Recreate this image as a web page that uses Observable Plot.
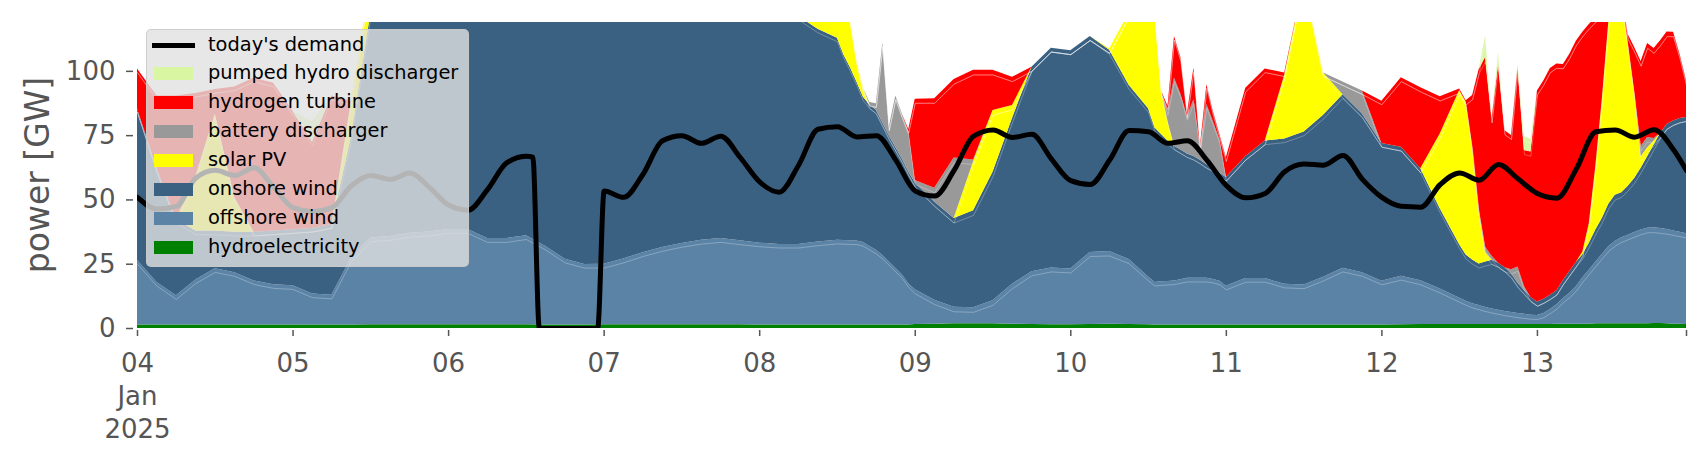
<!DOCTYPE html>
<html>
<head>
<meta charset="utf-8">
<script src="https://cdn.jsdelivr.net/npm/d3@7"></script>
<script src="https://cdn.jsdelivr.net/npm/@observablehq/plot@0.6"></script>
<style>
  body { margin: 0; background: #fff; font-family: "DejaVu Sans", sans-serif; }
  #wrap { position: relative; width: 1706px; height: 460px; overflow: hidden; background: #fff; }
  #ylabel { position: absolute; left: 37px; top: 175px; transform: translate(-50%, -50%) rotate(-90deg);
            font-size: 33px; color: #555; white-space: nowrap; }
  #legend { position: absolute; left: 146px; top: 29px; width: 323px; height: 238px; box-sizing: border-box;
            background: rgba(225,225,225,0.8); border: 1px solid rgba(200,200,200,0.8); border-radius: 5px; }
  .sw { position: absolute; left: 7px; width: 39px; height: 13px; }
  .ln { position: absolute; left: 5px; width: 43px; height: 5px; background: #000; }
  .lt { position: absolute; left: 61px; font-size: 19.4px; line-height: 1; color: #000; white-space: nowrap; }
</style>
</head>
<body>
<div id="wrap">
  <div id="chart"></div>
  <div id="ylabel">power [GW]</div>
  <div id="legend"></div>
</div>
<script>
// ---------- data ----------
// hours since 2025-01-04 00:00 for the generation series
const genHours = [0,3,6,9,12,15,18,21,24,27,30,33,36,39,42,45,48,51,54,57,60,63,66,69,72,75,78,81,84,87,90,93,96,99,102,105,108,
  109,110,111,112,113,114,115,116,117,118,119,120,
  123,126,129,132,135,138,141,144,147,150,153,156,
  157,158,159,160,161,162,163,164,165,166,167,168,
  171,174,177,180,183,186,189,192,195,198,201,204,
  205,206,207,208,209,210,211,212,213,214,215,216,217,218,219,220,221,222,223,224,225,226,227,228,229,230,231,232,233,234,235,236,237,238,239];

const hydro = [1.4,1.4,1.4,1.4,1.4,1.4,1.4,1.4,1.4,1.4,1.4,1.4,1.5,1.5,1.5,1.5,1.5,1.5,1.5,1.5,1.5,1.4,1.4,1.4,1.5,1.5,1.5,1.5,1.5,1.5,1.5,1.5,1.4,1.4,1.4,1.4,1.4,
  1.4,1.4,1.4,1.4,1.4,1.4,1.4,1.4,1.4,1.4,1.4,1.6,
  1.7,1.8,1.8,1.8,1.7,1.6,1.5,1.5,1.6,1.7,1.6,1.5,
  1.4,1.4,1.4,1.4,1.4,1.4,1.4,1.4,1.4,1.4,1.4,1.4,
  1.4,1.4,1.4,1.4,1.4,1.4,1.4,1.4,1.5,1.6,1.6,1.6,
  1.6,1.6,1.6,1.6,1.6,1.6,1.6,1.6,1.6,1.6,1.6,1.6,1.6,1.6,1.7,1.7,1.7,1.7,1.7,1.7,1.8,1.8,1.8,1.8,1.8,1.8,1.8,1.8,1.8,1.9,1.9,1.8,1.7,1.7,1.6];

const offshore = [25,16.5,11.3,17.5,21.8,20.3,17.1,15.6,15.2,12,11.5,26,33.7,34.3,35.5,36,37,37,33.5,33.5,34.6,30.5,25.5,23.5,23.5,25.5,28,30,31.6,32.8,33.5,32.6,31.8,31.3,31.3,32.2,32.9,
  32.8,32.7,32.6,32,30.5,29,27,24.5,22,19.5,16,13.5,
  9.3,6.5,6.3,9,15.5,20.5,22,21.6,28,28.2,25.2,18.5,
  16.5,16.8,16.9,17.1,17.6,18.1,18.1,18.1,18.1,17.7,17,15,
  18,18,15.8,15.5,18.5,22,20.3,17,18.8,17,13.8,10.2,
  9,8,7.3,6.6,6,5.5,5,4.6,4.2,3.9,3.6,3.5,4.2,5.8,7.5,10,12,14.5,18,21,24,27,30,32,33.5,34.5,35.5,36.5,37.2,37.3,37,36.7,36.2,35.7,35.2];

const onshore = [59,44.5,29.7,19,14.7,15.7,18.9,20.9,21.8,25.5,27.5,47,87.3,99.7,103.5,105,102,100,100.5,97.5,94.4,98.5,101.5,103.5,105.5,105.5,106,107,107.4,106.2,103.5,101.4,100.2,95.7,88.7,82.8,78.6,
  72.2,67.3,61.9,56.5,55,54.5,51.5,49,47,45,43.5,41.5,
  38.2,34.5,37.7,50,64.5,79.5,85.5,84.9,84,78.3,67.8,65.5,
  60.1,57.2,54.6,52.4,50.4,48.4,47.4,45.9,44.2,43.3,42,42.3,
  47.5,53.5,56.5,59.5,63,67.5,61.7,53.5,50.2,43.5,31.2,20.8,
  18,17,16.2,17.7,18.9,18.3,17,15.1,11.8,9.3,6.9,5.2,5.6,5.5,5.5,7,8.5,9.5,9,10.5,12.5,14,16.5,18,17.5,19,21,24,27.8,32.2,37,40.8,42.8,44.3,45.3];

const solar = [0,0,0,21.2,45.5,13.5,0,0,0,0,0,14,13,0,0,0,0,0,0,0,0,0,0,0,0,0,0,0,0,0,0,0,0,0,0,10,17.5,
  22,18.5,8.5,3.5,0,0,0,0,0,0,0,0,
  0,0,19,24,5,0,0,0,0,0.5,28,50,
  44.4,17,7.5,0,0,0,0,0,0,0,0,0,
  0,0,24.7,59,16.5,0,0,0,0,0,29,60,
  59.5,44,20.5,3.7,0,0,0,0,0,0,0,0,0,0,0,0,0,0,1,7.5,24.5,46,70.5,84,76,55.5,33.5,4.5,3.5,1.5,0,0,0,0,0];

const battery = [0,0,0,0,0,0,0,0,0,0,0,0,0,0,0,0,0,0,0,0,0,0,0,0,0,0,0,0,0,0,0,0,0,0,0,0,0,
  0,0,0,0,1,2.5,31.1,3.5,20,17.5,15.5,1,
  5.3,23.5,0.7,0,0,0,0,0,0,0,0,0,
  0,0,4,26.5,21.6,14.5,22.1,4.9,23.4,18,13,0,
  0,0,0,0,0,5,9,0,0,0,0,0,
  0,0,1,2,1.6,0,0,1.5,6.3,1.5,0,0,0,0,0,0,0,0,0,0,0,0,0,0,0,0,0,4,4,1,0,0,0,0,0];

const hydrogen = [15.5,28,48,32.3,9.5,43,60,57.5,46,33.5,50,0,0,0,0,0,0,0,0,0,0,0,0,0,0,0,0,0,0,0,0,0,0,0,0,0,0,
  0,0,0,0,0,0,0,0,0,0,1,31.6,
  34.8,30.5,34.9,15.6,11,0,0,0,0,0,0,0,
  0,0,2,16.2,14.2,1,12.3,0.6,7.7,4,2,7.7,
  26.5,28,1,0,0,0,0,16.5,27,31.5,14.5,0.5,
  0.5,20,54,73.8,53.5,77.4,53.3,52.3,77.6,52.9,56.5,82.1,84.9,88.2,88.2,84,84.5,86,85.5,77.5,58,34,5,2,2,3.5,17.5,33,36.5,35,36,36,34.5,25,14.2];

const pumped = [0,0,0,0,0,0,0,0,0,8,0,0,0,0,0,0,0,0,0,0,0,0,0,0,0,0,0,0,0,0,0,0,0,0,0,0,0,
  0,0,0,0,0,0,0,0,0,0,0,0,
  0,0,0,0,0,0,0,0,0,0,0,0,
  0,0,0,0,0,0,0,0,0,0,0,0,
  0,0,0,0,0,0,0,0,0,0,0,0,
  0,0,0,8.4,0,4.5,0,0,1.3,5.4,5,0,0,0,0,0,0,0,0,0,0,0,0,0,0,0,0,0,0,0,0,0,0,0,0];

// today's demand
const demandHours = [0,3,6,9,12,15,18,21,24,27,30,33,36,39,42,45,48,51,54,57,60,61,62,71,72,75,78,81,84,87,90,93,96,99,102,105,108,111,114,117,120,123,126,129,132,135,138,141,144,147,150,153,156,159,162,165,168,171,174,177,180,183,186,189,192,195,198,201,204,207,210,213,216,219,222,225,228,231,234,237,239];
const demand = [51,46.5,47.5,58.5,61.5,59.5,62.5,55,47,45.5,47,55.5,59.5,58,60.5,55,48,46,54,64.5,67,66.6,0,0,53.5,51,60,73,75,72,74.8,66.5,57,53,63.5,77.5,78.5,74.5,75,65.5,53.5,51.5,61.5,74.8,77.2,74.3,75.5,66,57.5,56,65.5,77,76.5,72,73,65.5,55.6,50.8,52.5,61,64,63.5,67.3,58,51,47.5,47.2,56,60.5,57.7,63.8,58.2,52.5,50.7,62,76.5,77.2,74.4,77.3,69.5,61.4];

const seriesNames = ["hydroelectricity","offshore wind","onshore wind","solar PV","battery discharger","hydrogen turbine","pumped hydro discharger"];
const seriesColors = ["#008000","#5b83a6","#3b6182","#ffff00","#999999","#ff0000","#d9f7a3"];
const yTicks = [0,25,50,75,100];
const dayTicks = [4,5,6,7,8,9,10,11,12,13];
const legendNames = ["today's demand","pumped hydro discharger","hydrogen turbine","battery discharger","solar PV","onshore wind","offshore wind","hydroelectricity"];

// ---------- build ----------
const t0 = Date.UTC(2025, 0, 4);
const toDate = h => new Date(t0 + h * 3600e3);
const seriesValues = [hydro, offshore, onshore, solar, battery, hydrogen, pumped];
const long = [];
seriesNames.forEach((s, k) => {
  if (seriesValues[k].length !== genHours.length) console.warn(s, seriesValues[k].length, genHours.length);
  genHours.forEach((h, i) => long.push({date: toDate(h), series: s, value: seriesValues[k][i]}));
});
const demandData = demandHours.map((h, i) => ({date: toDate(h), value: demand[i]}));
const xTicks = dayTicks.map(d => new Date(Date.UTC(2025, 0, d))).concat([toDate(239)]);

const chart = Plot.plot({
  width: 1706, height: 460,
  marginLeft: 137, marginRight: 20, marginTop: 22, marginBottom: 132,
  style: {fontFamily: "DejaVu Sans", fontSize: "26px", color: "#555", background: "white"},
  x: {type: "utc", domain: [toDate(0), toDate(239)]},
  y: {domain: [0, 119]},
  color: {domain: seriesNames, range: seriesColors},
  marks: [
    Plot.areaY(long, Plot.stackY({x: "date", y: "value", z: "series", fill: "series", order: seriesNames, clip: true})),
    Plot.lineY(long, Plot.stackY2({x: "date", y: "value", z: "series", order: seriesNames, stroke: "white",
      strokeOpacity: 0.35, strokeWidth: 0.8, clip: true,
      filter: d => d.series !== "hydroelectricity"})),
    Plot.line(demandData, {x: "date", y: "value", stroke: "black", strokeWidth: 5, curve: "monotone-x", clip: true}),
    Plot.axisY({ticks: yTicks, tickSize: 7, tickPadding: 11, dx: -4, label: null, strokeWidth: 1.5}),
    Plot.axisX({ticks: xTicks, tickSize: 6, tickPadding: 12, dy: 2, label: null, strokeWidth: 1.5, lineHeight: 1.27,
      tickFormat: d => {
        if (+d === +toDate(239)) return "";
        const day = d3.utcFormat("%d")(d);
        return +d === t0 ? day + "\nJan\n2025" : day;
      }})
  ]
});
document.getElementById("chart").appendChild(chart);

// legend (overlay, semi-transparent like the original)
const legend = document.getElementById("legend");
const colorOf = Object.fromEntries(seriesNames.map((s, i) => [s, seriesColors[i]]));
legendNames.forEach((name, i) => {
  const cy = 15 + 28.9 * i;
  if (i === 0) {
    const l = document.createElement("div"); l.className = "ln"; l.style.top = (cy - 2.5) + "px"; legend.appendChild(l);
  } else {
    const s = document.createElement("div"); s.className = "sw"; s.style.top = (cy - 6.5) + "px";
    s.style.background = colorOf[name]; legend.appendChild(s);
  }
  const t = document.createElement("div"); t.className = "lt"; t.textContent = name;
  t.style.top = (cy - 10.5) + "px"; legend.appendChild(t);
});
</script>
</body>
</html>
